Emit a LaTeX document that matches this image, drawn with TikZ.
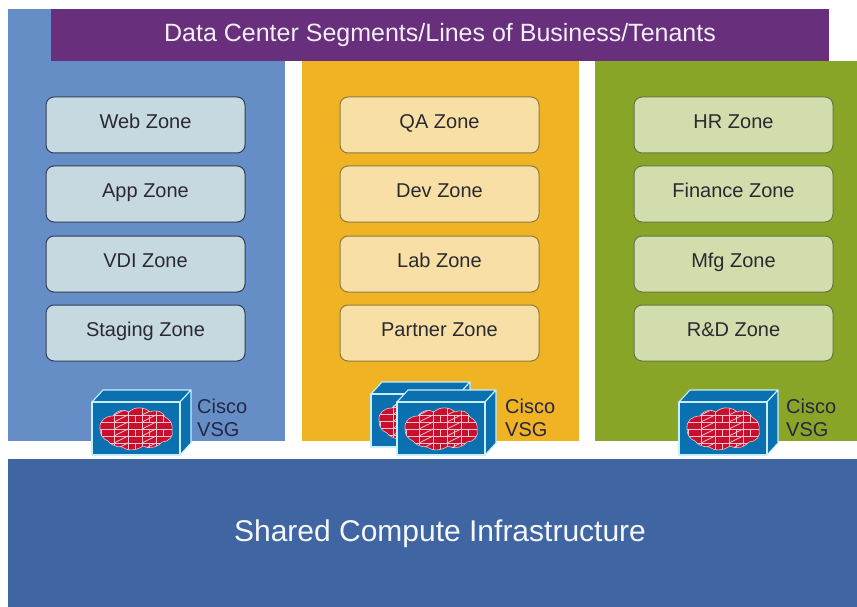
\documentclass[tikz,border=0pt]{standalone}
\usepackage{fontspec}
\setmainfont{Liberation Sans}
\definecolor{colblue}{HTML}{668EC6}
\definecolor{colorange}{HTML}{EFB323}
\definecolor{colgreen}{HTML}{89A527}
\definecolor{colpurple}{HTML}{68307C}
\definecolor{colband}{HTML}{3F65A3}
\definecolor{zblue}{HTML}{C6D8E0}
\definecolor{zorange}{HTML}{F8DFA6}
\definecolor{zgreen}{HTML}{D1DDAC}
\definecolor{edgeblue}{HTML}{2F3E55}
\definecolor{edgeorange}{HTML}{8F7A3A}
\definecolor{edgegreen}{HTML}{66753F}
\definecolor{boxblue}{HTML}{0A70B0}
\definecolor{boxedge}{HTML}{C8EEF8}
\definecolor{fwred}{HTML}{C8102E}
\definecolor{brick}{HTML}{F3C3CC}
\definecolor{txt}{HTML}{2A2A30}
\newcommand{\cloudpath}{(8,27) .. controls (7,19) and (13,14) .. (21,14)
        .. controls (25,8) and (32,7) .. (37,10)
        .. controls (43,4) and (53,5) .. (58,10)
        .. controls (65,7) and (71,10) .. (73,15)
        .. controls (79,18) and (81,23) .. (80,28)
        .. controls (82,34) and (77,40) .. (70,40)
        .. controls (65,46) and (56,47) .. (51,44)
        .. controls (44,49) and (35,49) .. (30,45)
        .. controls (23,45) and (18,42) .. (16,39)
        .. controls (11,37) and (8,33) .. cycle}
\tikzset{
  x=1pt,y=-1pt,
  panel/.style={draw=none,inner sep=0pt},
  zonebox/.style 2 args={draw=#2,line width=1pt,rounded corners=8pt,fill=#1,minimum width=199pt,minimum height=56pt,inner sep=0pt,text=txt,text height=12pt,text depth=5pt,font=\fontsize{20}{22}\selectfont},
  vsglabel/.style={anchor=west,align=left,inner sep=0pt,text=txt!90!blue,font=\fontsize{20}{23}\selectfont},
  boxline/.style={draw=boxedge,line width=1.1pt,line join=round},
  pics/vsgbox/.style={code={
    \filldraw[boxline,fill=boxblue] (0,0) -- (11,-12) -- (99,-12) -- (88,0) -- cycle;
    \filldraw[boxline,fill=boxblue] (88,0) -- (99,-12) -- (99,41) -- (88,53) -- cycle;
    \filldraw[boxline,fill=boxblue] (0,0) rectangle (88,53);
    \begin{scope}
      \path[clip] \cloudpath;
      \fill[fwred] (0,0) rectangle (88,53);
      \foreach \yy in {13,20,27,34,41}
        \draw[brick,line width=0.7pt] (5,\yy) -- (83,\yy);
      \foreach \xx in {22,36,50,64}
        \draw[brick,line width=0.8pt] (\xx,4) -- (\xx,50);
      \foreach \xx in {22,50}
        \foreach \yy in {6,13,20,27,34,41}
          \draw[brick,line width=0.7pt] (\xx,\yy+7) -- ++(14,-7);
      \foreach \xx in {9,43,57,71}
        \foreach \yy in {13,27,41}
          \draw[brick,line width=0.6pt] (\xx,\yy) -- ++(0,7);
    \end{scope}
    \draw[brick,line width=0.6pt] \cloudpath;
  }}
}
\begin{document}
\begin{tikzpicture}
\useasboundingbox (0,0) rectangle (857,607);
\fill[white] (0,0) rectangle (857,607);
% panels
\fill[colblue] (8,9) rectangle (285,441);
\fill[colorange] (302,61) rectangle (579,441);
\fill[colgreen] (595,61) rectangle (857,441);
\fill[colband] (8,459) rectangle (857,607);
\node[panel,fill=colpurple,minimum width=778pt,minimum height=52pt,text=white!92!colpurple,text height=18pt,text depth=5pt,font=\fontsize{25}{28}\selectfont] (title) at (440,35) {Data Center Segments/Lines of Business/Tenants};
\node[panel,text=white!95!colband,text height=20pt,text depth=8pt,font=\fontsize{30}{34}\selectfont] (shared) at (440,535) {Shared Compute Infrastructure};
% zones
\node[zonebox={zblue}{edgeblue}] (web) at (145.5,125) {Web Zone};
\node[zonebox={zblue}{edgeblue}] (app) at (145.5,194) {App Zone};
\node[zonebox={zblue}{edgeblue}] (vdi) at (145.5,264) {VDI Zone};
\node[zonebox={zblue}{edgeblue}] (staging) at (145.5,333) {Staging Zone};
\node[zonebox={zorange}{edgeorange}] (qa) at (439.5,125) {QA Zone};
\node[zonebox={zorange}{edgeorange}] (dev) at (439.5,194) {Dev Zone};
\node[zonebox={zorange}{edgeorange}] (lab) at (439.5,264) {Lab Zone};
\node[zonebox={zorange}{edgeorange}] (partner) at (439.5,333) {Partner Zone};
\node[zonebox={zgreen}{edgegreen}] (hr) at (733.5,125) {HR Zone};
\node[zonebox={zgreen}{edgegreen}] (finance) at (733.5,194) {Finance Zone};
\node[zonebox={zgreen}{edgegreen}] (mfg) at (733.5,264) {Mfg Zone};
\node[zonebox={zgreen}{edgegreen}] (rd) at (733.5,333) {R\&D Zone};
% VSG devices
\pic at (92,402) {vsgbox};
\pic at (371,394) {vsgbox};
\pic at (397,402) {vsgbox};
\pic at (679,402) {vsgbox};
\node[vsglabel] (vsga) at (197,417.5) {Cisco\\VSG};
\node[vsglabel] (vsgb) at (505,417.5) {Cisco\\VSG};
\node[vsglabel] (vsgc) at (786,417.5) {Cisco\\VSG};
\end{tikzpicture}
\end{document}
